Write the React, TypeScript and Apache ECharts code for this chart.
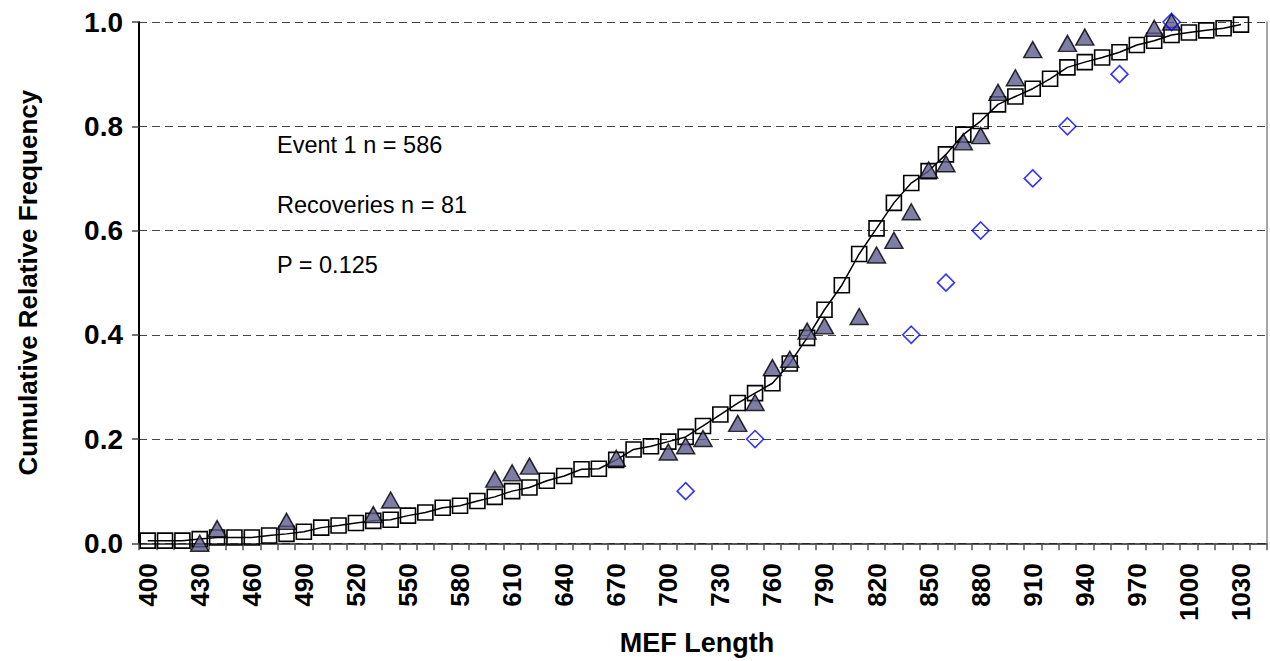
import React, { useEffect, useRef } from "react";
import * as echarts from "echarts";

const categories = [
  "400","410","420","430","440","450","460","470","480","490",
  "500","510","520","530","540","550","560","570","580","590",
  "600","610","620","630","640","650","660","670","680","690",
  "700","710","720","730","740","750","760","770","780","790",
  "800","810","820","830","840","850","860","870","880","890",
  "900","910","920","930","940","950","960","970","980","990",
  "1000","1010","1020","1030","1040",
];

// Event 1 cumulative relative frequency (squares + line), 400..1030
const event1Values = [
  0.005, 0.005, 0.005, 0.008, 0.011, 0.011, 0.011, 0.015, 0.018, 0.022,
  0.030, 0.034, 0.039, 0.043, 0.045, 0.053, 0.059, 0.068, 0.072, 0.081,
  0.089, 0.100, 0.107, 0.120, 0.129, 0.142, 0.143, 0.160, 0.180, 0.186,
  0.195, 0.204, 0.225, 0.247, 0.269, 0.288, 0.307, 0.345, 0.394, 0.448,
  0.495, 0.555, 0.604, 0.653, 0.691, 0.714, 0.746, 0.784, 0.810, 0.842,
  0.857, 0.872, 0.891, 0.913, 0.923, 0.932, 0.942, 0.956, 0.964, 0.975,
  0.980, 0.984, 0.988, 0.995,
];

// Recoveries (triangles)
const recoveryLengths = [
  "430","440","480","530","540","600","610","620","670","700",
  "710","720","740","750","760","770","780","790","810","820",
  "830","840","850","860","870","880","890","900","910","930",
  "940","980","990",
];
const recoveryValues = [
  0.0, 0.028, 0.042, 0.055, 0.083, 0.123, 0.135, 0.148, 0.163, 0.175,
  0.187, 0.201, 0.23, 0.27, 0.337, 0.353, 0.407, 0.417, 0.435, 0.553,
  0.581, 0.636, 0.716, 0.728, 0.77, 0.782, 0.865, 0.893, 0.947, 0.959,
  0.971, 0.988, 1.0,
];

// Diamonds
const diamondLengths = ["710","750","840","860","880","910","930","960","990"];
const diamondValues = [0.1, 0.2, 0.4, 0.5, 0.6, 0.7, 0.8, 0.9, 1.0];

const annotations = ["Event 1 n = 586", "Recoveries n = 81", "P = 0.125"];

const FONT = "'Liberation Sans', Arial, sans-serif";

export default function App() {
  const ref = useRef<HTMLDivElement>(null);

  useEffect(() => {
    if (!ref.current) return;
    const chart = echarts.init(ref.current, null, { renderer: "svg" });

    const option: any = {
      animation: false,
      backgroundColor: "#ffffff",
      textStyle: { fontFamily: FONT },
      grid: { left: 139, right: 3, top: 22, bottom: 115 },
      xAxis: {
        type: "category",
        data: categories,
        boundaryGap: true,
        name: "MEF Length",
        nameLocation: "middle",
        nameGap: 84,
        nameTextStyle: { fontFamily: FONT, fontSize: 27, fontWeight: "bold", color: "#000", verticalAlign: "top", padding: [0, 12, 0, 0] },
        axisLine: { show: true, lineStyle: { color: "#222", width: 1.5 } },
        axisTick: { show: true, interval: 0, alignWithLabel: false, length: 7, lineStyle: { color: "#555", width: 1.5 } },
        axisLabel: {
          interval: 2,
          rotate: 90,
          margin: 20,
          fontFamily: FONT,
          fontSize: 26,
          fontWeight: "bold",
          color: "#000",
        },
        splitLine: { show: false },
      },
      yAxis: [
        {
          type: "value",
          min: 0,
          max: 1,
          interval: 0.2,
          name: "Cumulative Relative Frequency",
          nameLocation: "middle",
          nameGap: 98,
          nameTextStyle: { fontFamily: FONT, fontSize: 26, fontWeight: "bold", color: "#000" },
          axisLine: { show: true, lineStyle: { color: "#000", width: 2 } },
          axisTick: { show: true, length: 7, lineStyle: { color: "#444", width: 1.5 } },
          axisLabel: {
            margin: 16,
            fontFamily: FONT,
            fontSize: 28,
            fontWeight: "bold",
            color: "#000",
            formatter: (v: number) => v.toFixed(1),
          },
          splitLine: { show: true, lineStyle: { color: "#444", width: 1, type: [8, 5] } },
        },
        {
          type: "value",
          position: "right",
          min: 0,
          max: 1,
          interval: 0.2,
          axisLine: { show: true, lineStyle: { color: "#888", width: 1.5 } },
          axisTick: { show: false },
          axisLabel: { show: false },
          splitLine: { show: false },
        },
      ],
      graphic: annotations.map((t, i) => ({
        type: "text",
        left: 277,
        top: 133 + i * 60,
        style: { text: t, fontFamily: FONT, fontSize: 23.5, fill: "#000" },
      })),
      series: [
        {
          name: "Event 1",
          type: "line",
          data: event1Values,
          smooth: false,
          symbol: "rect",
          symbolSize: 15,
          showAllSymbol: true,
          clip: false,
          lineStyle: { color: "#000", width: 1.5 },
          itemStyle: { color: "rgba(0,0,0,0)", borderColor: "#000", borderWidth: 1.6 },
          z: 2,
        },
        {
          name: "Recoveries",
          type: "scatter",
          data: recoveryLengths.map((c, i) => [c, recoveryValues[i]]),
          symbol: "triangle",
          symbolSize: [18, 16],
          clip: false,
          itemStyle: { color: "#5c5c8e", borderColor: "#000", borderWidth: 1.5 },
          z: 3,
        },
        {
          name: "Diamonds",
          type: "scatter",
          data: diamondLengths.map((c, i) => [c, diamondValues[i]]),
          symbol: "diamond",
          symbolSize: [17, 17],
          clip: false,
          itemStyle: { color: "rgba(0,0,0,0)", borderColor: "#0000ff", borderWidth: 1.6 },
          z: 4,
        },
      ],
    };

    chart.setOption(option);
    return () => chart.dispose();
  }, []);

  return (
    <div
      ref={ref}
      style={{ position: "fixed", left: 0, top: 0, width: 1270, height: 661, background: "#fff" }}
    />
  );
}
